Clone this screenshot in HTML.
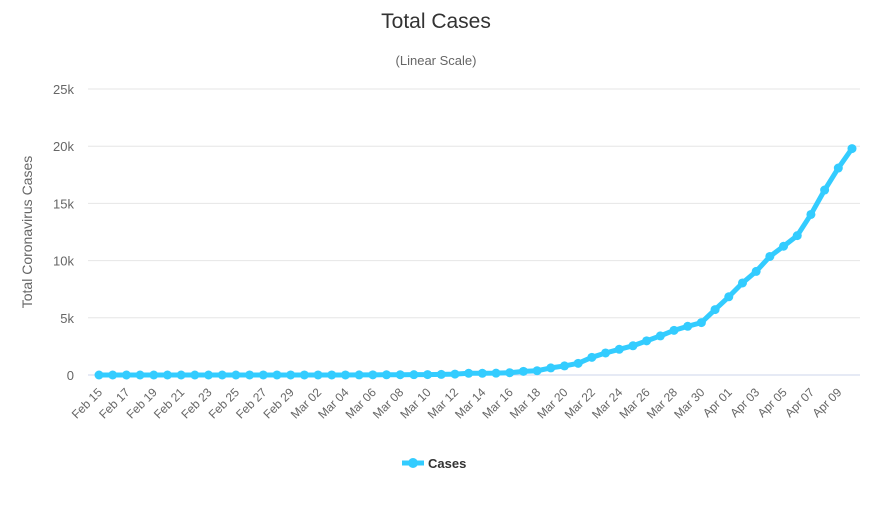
<!DOCTYPE html>
<html><head><meta charset="utf-8"><style>
body{margin:0;background:#fff;font-family:"Liberation Sans",sans-serif}
</style></head><body>
<svg id="c" width="872" height="500" xmlns="http://www.w3.org/2000/svg">
<text x="436" y="28" text-anchor="middle" font-size="21" fill="#333">Total Cases</text>
<text x="436" y="65" text-anchor="middle" font-size="13" fill="#666">(Linear Scale)</text>
<text transform="translate(32,232) rotate(-90)" text-anchor="middle" font-size="14" fill="#666">Total Coronavirus Cases</text>
<g id="grid"></g><g id="xt"></g><g id="series"></g>
<g>
<line x1="402" y1="463" x2="424" y2="463" stroke="#33ccff" stroke-width="5"/>
<circle cx="413" cy="463" r="5" fill="#33ccff"/>
<text x="428" y="468" font-size="13" font-weight="bold" fill="#333">Cases</text>
</g>
</svg>
<script>
const categories=["Feb 15","Feb 16","Feb 17","Feb 18","Feb 19","Feb 20","Feb 21","Feb 22","Feb 23","Feb 24","Feb 25","Feb 26","Feb 27","Feb 28","Feb 29","Mar 01","Mar 02","Mar 03","Mar 04","Mar 05","Mar 06","Mar 07","Mar 08","Mar 09","Mar 10","Mar 11","Mar 12","Mar 13","Mar 14","Mar 15","Mar 16","Mar 17","Mar 18","Mar 19","Mar 20","Mar 21","Mar 22","Mar 23","Mar 24","Mar 25","Mar 26","Mar 27","Mar 28","Mar 29","Mar 30","Mar 31","Apr 01","Apr 02","Apr 03","Apr 04","Apr 05","Apr 06","Apr 07","Apr 08","Apr 09","Apr 10"];
const cases=[0,0,0,0,0,0,0,0,0,0,0,1,1,1,2,2,2,2,4,8,13,19,25,30,34,52,77,151,151,162,200,321,372,621,793,1021,1546,1924,2247,2554,2985,3417,3904,4256,4579,5717,6836,8044,9056,10360,11254,12183,14034,16170,18092,19789];
const yTicks=[0,5000,10000,15000,20000,25000];
const yLabels=["0","5k","10k","15k","20k","25k"];
const NS="http://www.w3.org/2000/svg";
const x0=99,x1=852,yb=375,yt=89;
const X=i=>x0+(x1-x0)*i/(categories.length-1);
const Y=v=>yb-(yb-yt)*v/25000;
function mk(t,a,p){const e=document.createElementNS(NS,t);for(const k in a)e.setAttribute(k,a[k]);p.appendChild(e);return e;}
const g=document.getElementById('grid');
yTicks.forEach((v,i)=>{
 const l=mk('line',{x1:88,x2:860,y1:Y(v),y2:Y(v),stroke:i==0?'#ccd6eb':'#e6e6e6','stroke-width':1},g);
 
 
 const t=mk('text',{x:74,y:Y(v)+5,'text-anchor':'end','font-size':13,fill:'#666'},g);
 t.textContent=yLabels[i];
 
 
});
const xt=document.getElementById('xt');
categories.forEach((c,i)=>{
 if(i%2)return;
 const t=mk('text',{x:X(i)+4,y:393,'text-anchor':'end','font-size':12,fill:'#666',transform:`rotate(-45 ${X(i)+4} 393)`},xt);
 t.textContent=c;
 
 
});
const s=document.getElementById('series');
const p=mk('polyline',{points:cases.map((v,i)=>X(i)+','+Y(v)).join(' '),fill:'none',stroke:'#33ccff','stroke-width':5,'stroke-linejoin':'round'},s);


cases.forEach((v,i)=>{
 const c=mk('circle',{cx:X(i),cy:Y(v),r:4.5,fill:'#33ccff'},s);
 
 
});
</script>
</body></html>
